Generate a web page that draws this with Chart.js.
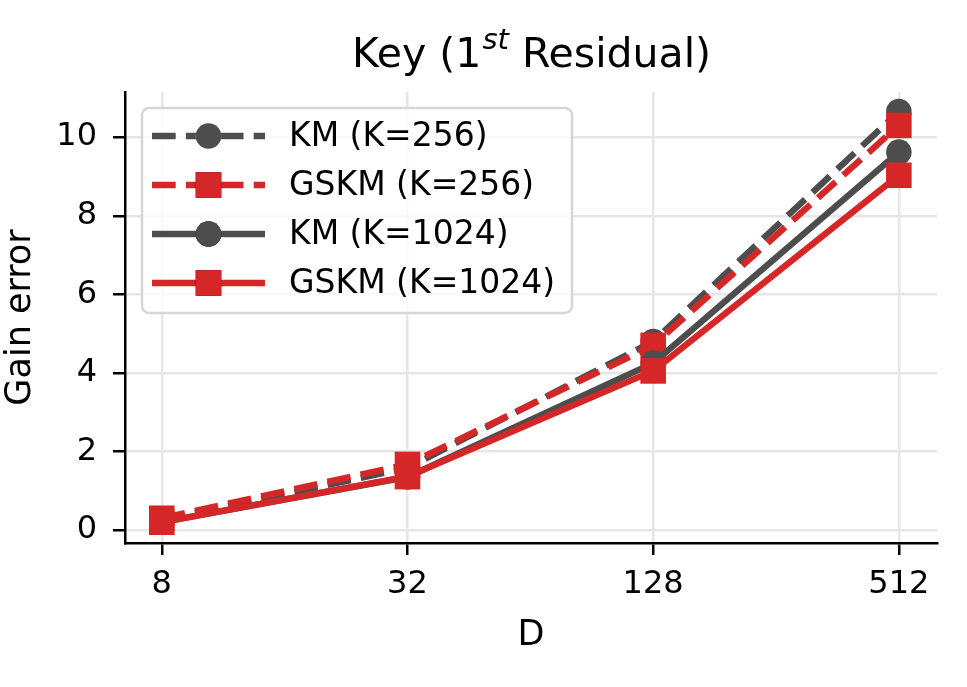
<!DOCTYPE html>
<html>
<head>
<meta charset="utf-8">
<script src="https://cdn.jsdelivr.net/npm/chart.js@4.4.1/dist/chart.umd.min.js"></script>
<style>
  html, body { margin: 0; padding: 0; background: #fff; }
  canvas { display: block; }
</style>
</head>
<body>
<canvas id="gainChart" width="967" height="687"></canvas>
<script>
// --- Data ---
const dims = [8, 32, 128, 512];
const yTicks = [0, 2, 4, 6, 8, 10];
const seriesNames = ['KM (K=256)', 'GSKM (K=256)', 'KM (K=1024)', 'GSKM (K=1024)'];
const km256 = [0.25, 1.58, 4.8, 10.65];
const gskm256 = [0.3, 1.67, 4.7, 10.3];
const km1024 = [0.2, 1.35, 4.25, 9.62];
const gskm1024 = [0.2, 1.36, 4.05, 9.03];

const GREY = '#4d4d4d';
const RED = '#d62728';
const FONT = '"DejaVu Sans", sans-serif';

function pts(vals) {
  return dims.map((d, i) => ({ x: d, y: vals[i] }));
}

function makeSet(label, vals, color, dashed, circle, order) {
  return {
    label: label,
    data: pts(vals),
    borderColor: color,
    backgroundColor: color,
    borderWidth: 6.4,
    borderDash: dashed ? [23.7, 10.2] : [],
    borderJoinStyle: 'round',
    pointStyle: circle ? 'circle' : 'rect',
    pointRadius: circle ? 12.8 : 18.1,
    pointBorderWidth: 0,
    pointBackgroundColor: color,
    tension: 0,
    order: order
  };
}

const datasets = [
  makeSet(seriesNames[0], km256, GREY, true, true, 4),
  makeSet(seriesNames[1], gskm256, RED, true, false, 3),
  makeSet(seriesNames[2], km1024, GREY, false, true, 2),
  makeSet(seriesNames[3], gskm1024, RED, false, false, 1)
];

// --- Title with superscript ---
const titlePlugin = {
  id: 'supTitle',
  afterDraw(chart) {
    const ctx = chart.ctx;
    const area = chart.chartArea;
    const cx = (area.left + area.right) / 2;
    const base = 67;
    const big = '41px ' + FONT;
    const small = 'italic 29px ' + FONT;
    const p1 = 'Key (1', p2 = 'st', p3 = ' Residual)';
    ctx.save();
    ctx.fillStyle = '#000';
    ctx.textBaseline = 'alphabetic';
    ctx.font = big;
    const w1 = ctx.measureText(p1).width;
    const w3 = ctx.measureText(p3).width;
    ctx.font = small;
    const w2 = ctx.measureText(p2).width;
    let x = cx - (w1 + w2 + w3) / 2;
    ctx.font = big;
    ctx.fillText(p1, x, base);
    x += w1;
    ctx.font = small;
    ctx.fillText(p2, x + 1, base - 18);
    x += w2 + 1;
    ctx.font = big;
    ctx.fillText(p3, x, base);
    ctx.restore();
  }
};

// --- Legend box inside the axes ---
const legendPlugin = {
  id: 'boxLegend',
  afterDraw(chart) {
    const ctx = chart.ctx;
    const area = chart.chartArea;
    const bx = area.left + 17, by = area.top + 16;
    const bw = 430, bh = 205;
    ctx.save();
    ctx.beginPath();
    ctx.roundRect(bx, by, bw, bh, 7);
    ctx.fillStyle = 'rgba(255,255,255,0.8)';
    ctx.fill();
    ctx.lineWidth = 2.5;
    ctx.strokeStyle = '#d6d6d6';
    ctx.stroke();

    chart.data.datasets.forEach((ds, i) => {
      const rowY = by + 28 + i * 49;
      const x0 = bx + 10, x1 = bx + 123, xm = (x0 + x1) / 2;
      ctx.beginPath();
      ctx.setLineDash(ds.borderDash);
      ctx.lineWidth = ds.borderWidth;
      ctx.strokeStyle = ds.borderColor;
      ctx.moveTo(x0, rowY);
      ctx.lineTo(x1, rowY);
      ctx.stroke();
      ctx.setLineDash([]);
      Chart.helpers.drawPoint(ctx, {
        pointStyle: ds.pointStyle,
        radius: ds.pointRadius,
        rotation: 0,
        borderWidth: 0
      }, xm, rowY);
      ctx.fillStyle = ds.backgroundColor;
      ctx.fill();
      ctx.fillStyle = '#000';
      ctx.font = '33px ' + FONT;
      ctx.textBaseline = 'middle';
      ctx.fillText(ds.label, bx + 147, rowY + 1);
    });
    ctx.restore();
  }
};

const ctx = document.getElementById('gainChart').getContext('2d');
const gainChart = new Chart(ctx, {
  type: 'line',
  data: { datasets: datasets },
  options: {
    responsive: false,
    animation: false,
    events: [],
    layout: { padding: { top: 92, right: 30, left: 0, bottom: 30 } },
    plugins: {
      legend: { display: false },
      title: { display: false },
      tooltip: { enabled: false }
    },
    scales: {
      x: {
        type: 'logarithmic',
        min: 6.5,
        max: 635,
        afterBuildTicks: (scale) => { scale.ticks = dims.map(v => ({ value: v })); },
        afterFit: (scale) => { scale.height = 114; },
        ticks: {
          color: '#000',
          font: { family: FONT, size: 32 },
          padding: 10,
          maxRotation: 0,
          autoSkip: false,
          callback: (v) => String(v)
        },
        grid: {
          color: '#e6e6e6',
          lineWidth: 2.5,
          tickColor: '#000',
          tickLength: 12,
          tickWidth: 2.5
        },
        border: { display: true, color: '#000', width: 2.5 },
        title: {
          display: true,
          text: 'D',
          color: '#000',
          font: { family: FONT, size: 35 },
          padding: { top: 4, bottom: 0 }
        }
      },
      y: {
        type: 'linear',
        min: -0.33,
        max: 11.15,
        afterBuildTicks: (scale) => { scale.ticks = yTicks.map(v => ({ value: v })); },
        afterFit: (scale) => { scale.width = 125; },
        ticks: {
          color: '#000',
          font: { family: FONT, size: 32 },
          padding: 16
        },
        grid: {
          color: '#e6e6e6',
          lineWidth: 2.5,
          tickColor: '#000',
          tickLength: 12,
          tickWidth: 2.5
        },
        border: { display: true, color: '#000', width: 2.5 },
        title: {
          display: true,
          text: 'Gain error',
          color: '#000',
          font: { family: FONT, size: 35 },
          padding: { top: 0, bottom: 0 }
        }
      }
    }
  },
  plugins: [titlePlugin, legendPlugin]
});
</script>
</body>
</html>
